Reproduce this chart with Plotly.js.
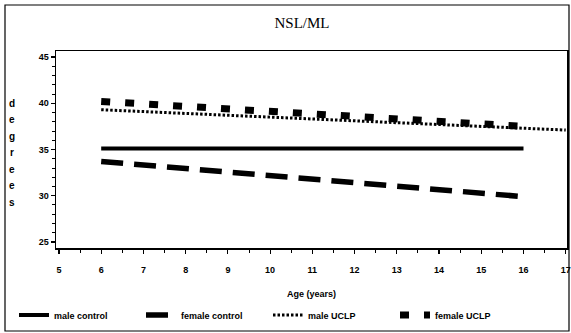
<!DOCTYPE html>
<html>
<head>
<meta charset="utf-8">
<script src="https://cdn.plot.ly/plotly-3.0.1.min.js"></script>
<style>
  html, body { margin: 0; padding: 0; background: #fff; }
  #chart { width: 571px; height: 333px; }
</style>
</head>
<body>
<div id="chart"></div>
<script>
// NSL/ML angle by age: fitted lines for control and UCLP groups
const ageMaleControl = [6, 16];
const nslMaleControl = [35.1, 35.1];

const ageFemaleControl = [6, 16];
const nslFemaleControl = [33.7, 29.9];

const ageMaleUCLP = [6, 17];
const nslMaleUCLP = [39.3, 37.1];

const ageFemaleUCLP = [6, 16];
const nslFemaleUCLP = [40.2, 37.5];

const seriesNames = ['male control', 'female control', 'male UCLP', 'female UCLP'];
const ageTicks = [5, 6, 7, 8, 9, 10, 11, 12, 13, 14, 15, 16, 17];
const degreeTicks = [25, 30, 35, 40, 45];
const yTitleLetters = ['d', 'e', 'g', 'r', 'e', 'e', 's'];

const ink = '#000';
const sansBold = 'Liberation Sans, Arial, sans-serif';

const traces = [
  { x: ageMaleControl, y: nslMaleControl, name: seriesNames[0],
    line: { color: ink, width: 4 } },
  { x: ageFemaleControl, y: nslFemaleControl, name: seriesNames[1],
    line: { color: ink, width: 5.5, dash: '22px,11px' } },
  { x: ageMaleUCLP, y: nslMaleUCLP, name: seriesNames[2],
    line: { color: ink, width: 3, dash: '2.5px,2px' } },
  { x: ageFemaleUCLP, y: nslFemaleUCLP, name: seriesNames[3],
    line: { color: ink, width: 7, dash: '9px,15px' } }
].map(t => Object.assign({ type: 'scatter', mode: 'lines', hoverinfo: 'skip' }, t));

// plot area in pixels: x 56..567, y 51..248
const L = 56, R = 567, T = 51, B = 248, W = 571, H = 333;
const px = X => (X - L) / (R - L);
const py = Y => (B - Y) / (B - T);

const annotations = [
  { text: '<b>Age (years)</b>', xref: 'paper', yref: 'paper',
    x: px(311), y: py(294), xanchor: 'center', yanchor: 'middle',
    showarrow: false, font: { family: sansBold, size: 9, color: ink } }
];
yTitleLetters.forEach((ch, i) => {
  annotations.push({
    text: '<b>' + ch + '</b>', xref: 'paper', yref: 'paper',
    x: px(12), y: py(103 + i * 16.5), xanchor: 'center', yanchor: 'middle',
    showarrow: false, font: { family: sansBold, size: 10, color: ink }
  });
});

const layout = {
  width: W, height: H,
  margin: { l: L, r: W - R, t: T, b: H - B, pad: 0, autoexpand: false },
  paper_bgcolor: '#fff', plot_bgcolor: '#fff',
  showlegend: true,
  title: {
    text: 'NSL/ML', x: 302 / W, xanchor: 'center', xref: 'container',
    y: 1 - 23 / H, yanchor: 'middle', yref: 'container',
    font: { family: 'Liberation Serif, Times New Roman, serif', size: 15, color: ink }
  },
  xaxis: {
    range: [4.93, 17.03], tickmode: 'array', tickvals: ageTicks,
    ticktext: ageTicks.map(String),
    ticks: 'outside', ticklen: 4, tickwidth: 1.2, tickcolor: ink,
    ticklabelstandoff: 9,
    minor: { dtick: 0.5, ticks: 'outside', ticklen: 3, tickwidth: 1, tickcolor: ink },
    showline: true, linecolor: ink, linewidth: 1.5, mirror: true,
    showgrid: false, zeroline: false,
    tickfont: { family: sansBold, size: 9, color: ink, weight: 'bold' },
    fixedrange: true
  },
  yaxis: {
    range: [24.35, 45.65], tickmode: 'array', tickvals: degreeTicks,
    ticktext: degreeTicks.map(String),
    ticks: 'outside', ticklen: 4, tickwidth: 1.2, tickcolor: ink,
    minor: { dtick: 1, ticks: 'outside', ticklen: 3, tickwidth: 1, tickcolor: ink },
    showline: true, linecolor: ink, linewidth: 1.5, mirror: true,
    showgrid: false, zeroline: false,
    tickfont: { family: sansBold, size: 9, color: ink, weight: 'bold' },
    fixedrange: true
  },
  legend: {
    orientation: 'h', xref: 'paper', yref: 'paper',
    x: px(14), y: py(315), xanchor: 'left', yanchor: 'middle',
    entrywidth: 82, entrywidthmode: 'pixels',
    font: { family: sansBold, size: 9, color: ink, weight: 'bold' },
    bgcolor: 'rgba(0,0,0,0)', tracegroupgap: 0
  },
  shapes: [
    { type: 'rect', xref: 'paper', yref: 'paper',
      x0: px(5), x1: px(569), y0: py(331), y1: py(5),
      line: { color: ink, width: 1.2 }, fillcolor: 'rgba(0,0,0,0)' }
  ],
  annotations: annotations
};

Plotly.newPlot('chart', traces, layout, { staticPlot: true, displayModeBar: false });
</script>
</body>
</html>
